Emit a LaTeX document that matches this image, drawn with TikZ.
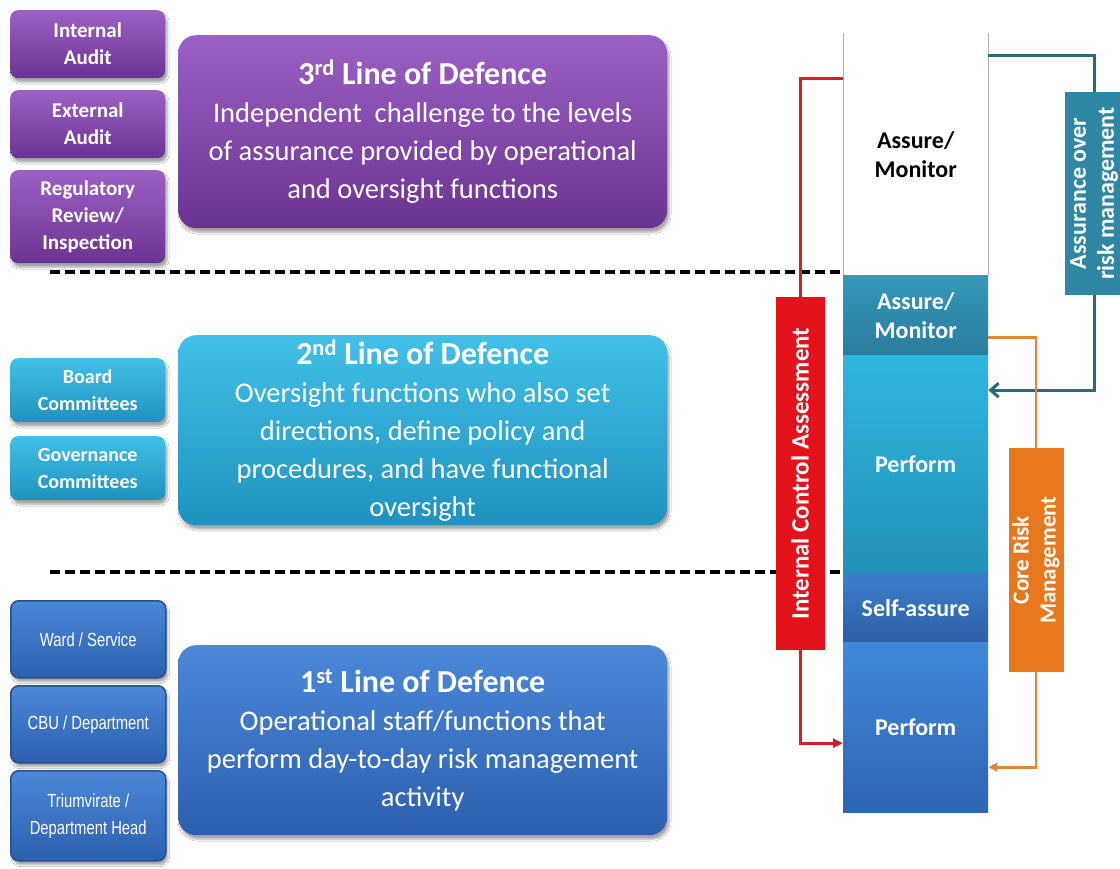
\documentclass[tikz,border=0pt]{standalone}
\usepackage{fontspec}
\setmainfont{Carlito}
\newfontfamily\narrowfont[FakeStretch=0.78]{Liberation Sans}
\usetikzlibrary{arrows.meta,shadows.blur,calc}
\definecolor{purpT}{HTML}{9D60C6}
\definecolor{purpB}{HTML}{6B3391}
\definecolor{cyanT}{HTML}{41C0E8}
\definecolor{cyanB}{HTML}{1F92BE}
\definecolor{blueT}{HTML}{4C88D8}
\definecolor{blueB}{HTML}{2B5FAE}
\definecolor{blueEdge}{HTML}{24508F}
\definecolor{amT}{HTML}{3598BA}
\definecolor{amB}{HTML}{2A7C9C}
\definecolor{pfT}{HTML}{2FB6DF}
\definecolor{pfB}{HTML}{2291B9}
\definecolor{saT}{HTML}{3C7ECB}
\definecolor{saB}{HTML}{2C5EA6}
\definecolor{p1T}{HTML}{4089DA}
\definecolor{p1B}{HTML}{2E65B2}
\definecolor{redBox}{HTML}{E3121B}
\definecolor{redLine}{HTML}{D21F2A}
\definecolor{orangeBox}{HTML}{E8781E}
\definecolor{orangeLine}{HTML}{D98A3A}
\definecolor{tealBox}{HTML}{2F87A4}
\definecolor{tealLine}{HTML}{2B6A74}
\begin{document}
\begin{tikzpicture}[x=1pt,y=-1pt,
  shad/.style={blur shadow={shadow xshift=2pt,shadow yshift=-4pt,shadow blur steps=6,shadow opacity=35}},
  smallbox/.style={shad,rounded corners=8pt,minimum width=155,inner sep=0pt,text=white,align=center,anchor=north west,
    font=\fontsize{21}{27}\selectfont\bfseries},
  narrowbox/.style={shad,rounded corners=8pt,minimum width=155,inner sep=0pt,text=white,align=center,anchor=north west,
    draw=blueEdge,line width=1.5pt,top color=blueT,bottom color=blueB,font=\narrowfont\fontsize{19}{27}\selectfont},
  bigbox/.style={shad,rounded corners=18pt,minimum width=489,minimum height=192,inner sep=0pt,text=white,align=center,anchor=north west,
    font=\fontsize{28.5}{38}\selectfont},
  ttl/.style={font=\fontsize{32}{38}\selectfont\bfseries},
  purp/.style={top color=purpT,bottom color=purpB},
  cyn/.style={top color=cyanT,bottom color=cyanB},
  blu/.style={top color=blueT,bottom color=blueB},
  seg/.style={minimum width=145,inner sep=0pt,text=white,align=center,anchor=north west,
    font=\fontsize{24}{29}\selectfont\bfseries},
  vbox/.style={rotate=90,inner sep=0pt,text=white,align=center},
  divider/.style={line width=3.4pt,dash pattern=on 10pt off 5pt},
  redconn/.style={redLine,line width=3pt},
  tealconn/.style={tealLine,line width=3pt},
  orconn/.style={orangeLine,line width=2.6pt}
]
\useasboundingbox[fill=white] (0,0) rectangle (1120,869);

% ---------- 3rd line ----------
\node[smallbox,purp,minimum height=68] (ia) at (10,10) {Internal\\Audit};
\node[smallbox,purp,minimum height=68] (ea) at (10,90) {External\\Audit};
\node[smallbox,purp,minimum height=93] (rr) at (10,170) {Regulatory\\Review/\\Inspection};
\node[bigbox,purp,minimum height=193] (l3) at (178,35)
  {{\fontsize{32}{38}\selectfont\bfseries 3\textsuperscript{rd} Line of Defence}\\
   Independent~ challenge to the levels\\
   of assurance provided by operational\\
   and oversight functions};

% ---------- 2nd line ----------
\node[smallbox,cyn,minimum height=64,font=\fontsize{20}{27}\selectfont\bfseries] (bc) at (10,358) {Board\\Committees};
\node[smallbox,cyn,minimum height=64,font=\fontsize{20}{27}\selectfont\bfseries] (gc) at (10,436) {Governance\\Committees};
\node[bigbox,cyn,minimum height=190] (l2) at (178,335)
  {{\fontsize{32}{38}\selectfont\bfseries 2\textsuperscript{nd} Line of Defence}\\
   Oversight functions who also set\\
   directions, define policy and\\
   procedures, and have functional\\
   oversight};

% ---------- 1st line ----------
\node[narrowbox,minimum height=77] (ws) at (10,600) {Ward / Service};
\node[narrowbox,minimum height=77] (cbu) at (10,685) {CBU / Department};
\node[narrowbox,minimum height=90] (tri) at (10,770) {Triumvirate /\\Department Head};
\node[bigbox,blu,minimum height=190] (l1) at (178,645)
  {{\fontsize{32}{38}\selectfont\bfseries 1\textsuperscript{st} Line of Defence}\\
   Operational staff/functions that\\
   perform day-to-day risk management\\
   activity};

% ---------- right column ----------
\node[seg,minimum height=242,text=black] (wt) at (843,33) {Assure/\\Monitor};
\draw[gray!60,line width=1pt] (wt.north west) -- (wt.south west);
\draw[gray!60,line width=1pt] (wt.north east) -- (wt.south east);
\node[seg,minimum height=80,top color=amT,bottom color=amB] (am) at (843,275) {Assure/\\Monitor};
\node[seg,minimum height=218,top color=pfT,bottom color=pfB] (p2) at (843,355) {Perform};
\node[seg,minimum height=69,top color=saT,bottom color=saB] (sa) at (843,573) {Self-assure};
\node[seg,minimum height=170,top color=p1T,bottom color=p1B] (p1) at (843,642) {Perform};

% ---------- dividers ----------
\coordinate (d1) at (50,272);
\coordinate (d2) at (50,572);
\draw[divider] (d1) -- (wt.west |- d1);
\draw[divider] (d2) -- (sa.west |- d2);

% ---------- side boxes ----------
\node[vbox,fill=redBox,minimum width=353,minimum height=49,font=\fontsize{25}{28}\selectfont\bfseries] (ica) at (800,473.5) {Internal Control Assessment};
\node[vbox,fill=tealBox,minimum width=203,minimum height=58,font=\fontsize{24}{28}\selectfont\bfseries] (aor) at (1094,193.5) {Assurance over\\risk management};
\node[vbox,fill=orangeBox,minimum width=224,minimum height=55,font=\fontsize{23}{27}\selectfont\bfseries] (crm) at (1036,560) {Core Risk\\Management};

% ---------- connectors ----------
\draw[redconn] ([yshift=76pt]wt.west) -| (ica.east);
\draw[redconn,-{Triangle[length=10pt,width=9pt]}] (ica.west) |- ([yshift=-16pt]p1.west);
\draw[tealconn] ([yshift=99pt]wt.east) -| (aor.east);
\draw[tealconn,-{Straight Barb[length=8pt,width=14pt]}] (aor.west) |- ([yshift=74pt]p2.east);
\draw[orconn] ([yshift=-22pt]am.east) -| (crm.east);
\draw[orconn,-{Triangle[length=9pt,width=9pt]}] (crm.west) |- ([yshift=-40pt]p1.east);
\end{tikzpicture}
\end{document}
